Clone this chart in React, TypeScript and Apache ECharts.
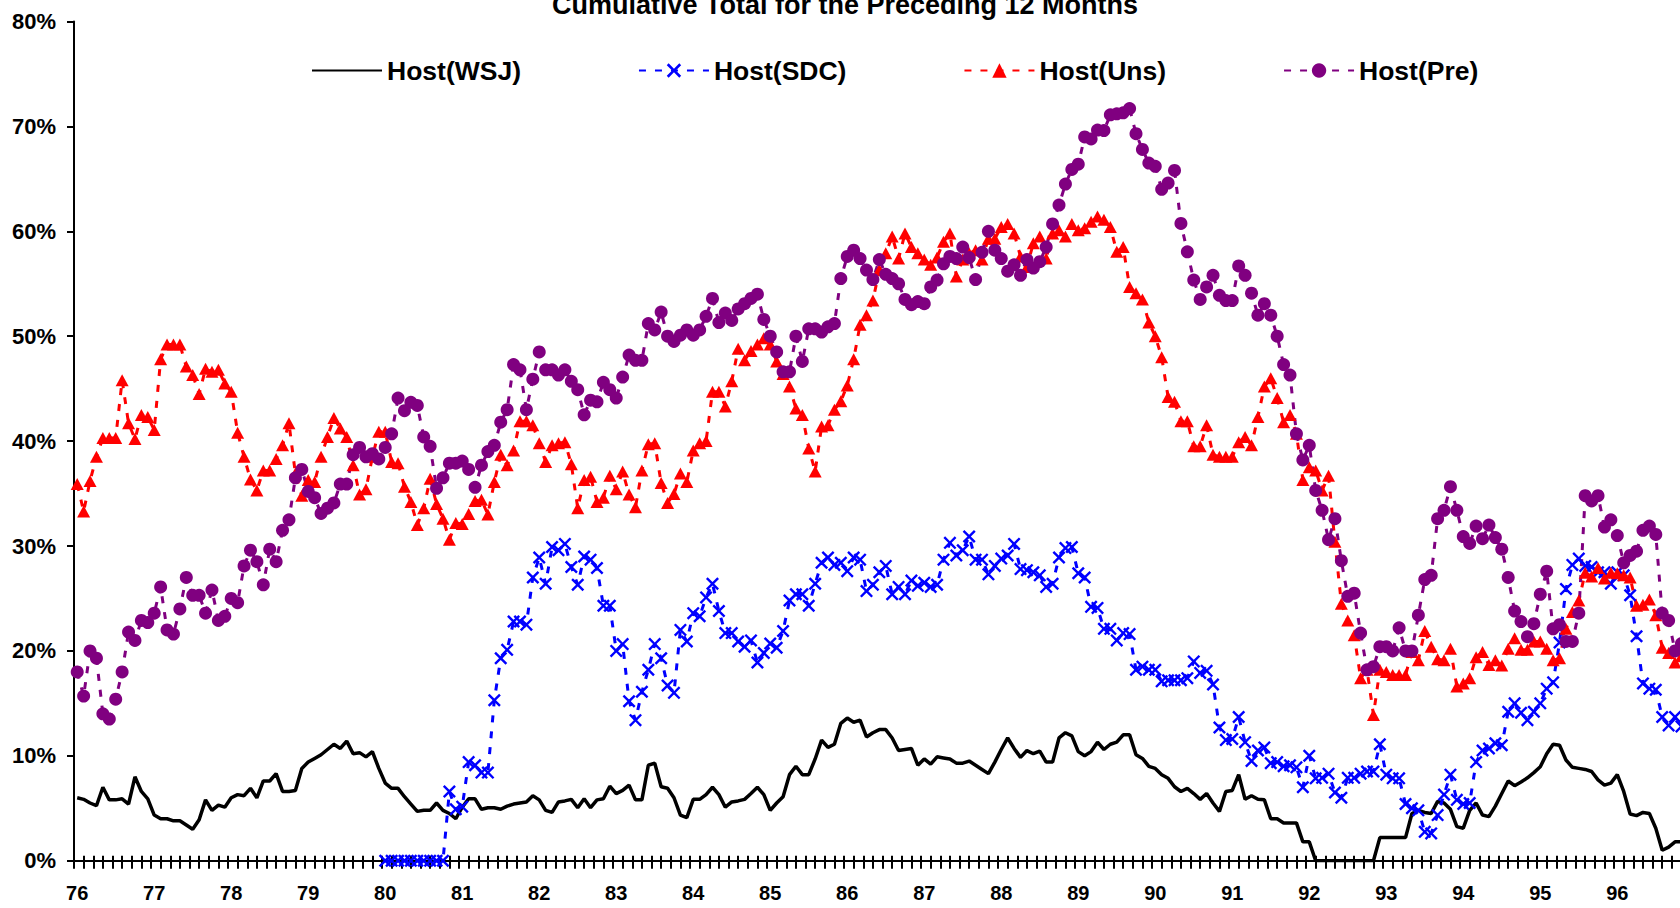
import React, { useEffect, useRef } from "react";
import * as echarts from "echarts";

const FONT = "'Liberation Sans', Arial, sans-serif";
const TITLE = "Cumulative Total for the Preceding 12 Months";
const YEARS = [76, 77, 78, 79, 80, 81, 82, 83, 84, 85, 86, 87, 88, 89, 90, 91, 92, 93, 94, 95, 96];
const MONTHS = [1, 2, 3, 4, 5, 6, 7, 8, 9, 10, 11, 12];
const Y_TICKS = [0, 10, 20, 30, 40, 50, 60, 70, 80];
const SERIES_NAMES = ["Host(WSJ)", "Host(SDC)", "Host(Uns)", "Host(Pre)"];

// monthly values (%) starting Jan 1976
const hostWSJ = [
  6.0, 5.85, 5.5, 5.24, 7.0, 5.8, 5.8, 5.9, 5.4, 8.0,
  6.6, 5.9, 4.35, 4.0, 4.0, 3.8, 3.8, 3.4, 3.0, 3.9,
  5.8, 4.8, 5.3, 5.1, 6.0, 6.3, 6.2, 6.9, 6.0, 7.6,
  7.6, 8.3, 6.6, 6.6, 6.7, 8.8, 9.4, 9.75, 10.1, 10.6,
  11.1, 10.7, 11.4, 10.2, 10.3, 9.9, 10.4, 8.8, 7.4, 6.9,
  6.9, 6.1, 5.4, 4.7, 4.8, 4.8, 5.5, 4.8, 4.5, 4.0,
  5.1, 5.9, 5.9, 4.9, 5.05, 5.05, 4.9, 5.2, 5.4, 5.5,
  5.6, 6.2, 5.8, 4.8, 4.6, 5.6, 5.7, 5.85, 5.05, 5.9,
  5.05, 5.8, 5.9, 7.1, 6.4, 6.7, 7.2, 5.8, 5.8, 9.1,
  9.3, 7.05, 6.9, 6.0, 4.35, 4.1, 5.85, 5.85, 6.3, 7.0,
  6.3, 5.1, 5.6, 5.7, 5.85, 6.4, 7.0, 6.3, 4.8, 5.5,
  6.1, 8.2, 9.0, 8.2, 8.2, 9.7, 11.5, 10.8, 11.1, 13.1,
  13.6, 13.2, 13.4, 11.8, 12.2, 12.5, 12.5, 11.7, 10.5, 10.6,
  10.7, 9.1, 9.7, 9.2, 9.9, 9.8, 9.7, 9.3, 9.3, 9.5,
  9.1, 8.7, 8.3, 9.4, 10.6, 11.7, 10.7, 9.85, 10.5, 10.2,
  10.45, 9.4, 9.4, 11.7, 12.2, 11.9, 10.4, 10.0, 10.4, 11.3,
  10.6, 11.1, 11.3, 12.0, 12.0, 10.1, 9.75, 9.0, 8.8, 8.2,
  7.85, 7.05, 6.6, 6.9, 6.4, 5.85, 6.4, 5.5, 4.7, 6.6,
  6.7, 8.2, 5.85, 6.2, 5.85, 5.8, 4.0, 4.0, 3.6, 3.6,
  3.6, 1.8, 1.8, 0, 0, 0, 0, 0, 0, 0,
  0, 0, 0, 2.2, 2.2, 2.2, 2.2, 2.2, 4.5, 4.8,
  4.6, 4.5, 5.65, 5.5, 4.9, 3.25, 3.1, 4.8, 5.5, 4.35,
  4.2, 5.2, 6.4, 7.6, 7.15, 7.5, 7.9, 8.4, 8.95, 10.2,
  11.1, 11.0, 9.6, 8.9, 8.8, 8.7, 8.5, 7.7, 7.2, 7.4,
  8.2, 6.6, 4.45, 4.3, 4.6, 4.5, 3.1, 1.0, 1.3, 1.8,
  1.8,
];

// SDC series begins Jan 1980
const SDC_START_YEAR = 80;
const hostSDC = [
  0, 0, 0, 0, 0, 0, 0, 0, 0, 0,
  6.6, 4.9, 5.15, 9.4, 9.1, 8.4, 8.4, 15.3, 19.3, 20.1,
  22.8, 22.8, 22.5, 27.0, 28.9, 26.4, 29.9, 29.6, 30.2, 28.0,
  26.3, 29.0, 28.7, 27.9, 24.3, 24.3, 20.0, 20.65, 15.2, 13.4,
  16.1, 18.2, 20.65, 19.3, 16.7, 16.0, 22.0, 20.9, 23.6, 23.3,
  25.1, 26.4, 23.8, 21.7, 21.7, 20.9, 20.4, 21.0, 18.9, 19.8,
  20.7, 20.3, 21.9, 24.8, 25.4, 25.4, 24.3, 26.4, 28.4, 28.9,
  28.2, 28.4, 27.6, 28.9, 28.7, 25.7, 26.3, 27.5, 28.1, 25.4,
  26.1, 25.4, 26.7, 26.2, 26.5, 26.1, 26.3, 28.7, 30.3, 29.1,
  29.6, 30.9, 28.7, 28.7, 27.3, 28.1, 28.8, 29.1, 30.2, 27.8,
  27.7, 27.5, 27.2, 26.1, 26.4, 28.9, 29.8, 29.9, 27.4, 27.0,
  24.2, 24.1, 22.1, 22.1, 21.0, 21.7, 21.6, 18.2, 18.5, 18.2,
  18.2, 17.1, 17.2, 17.2, 17.2, 17.4, 19.0, 17.9, 18.1, 16.8,
  12.7, 11.5, 11.6, 13.7, 11.3, 9.5, 10.5, 10.8, 9.3, 9.4,
  9.0, 9.1, 8.9, 7.0, 10.0, 7.85, 7.9, 8.3, 6.5, 6.0,
  7.9, 7.9, 8.3, 8.5, 8.5, 11.1, 8.2, 7.85, 7.85, 5.4,
  5.0, 4.8, 2.75, 2.6, 4.35, 6.3, 8.2, 5.8, 5.4, 5.5,
  9.4, 10.5, 10.7, 11.2, 11.0, 14.2, 15.0, 14.1, 13.4, 14.2,
  15.0, 16.4, 17.0, 20.8, 25.9, 28.2, 28.8, 28.1, 28.0, 27.5,
  27.5, 26.4, 27.5, 27.2, 25.3, 21.4, 16.9, 16.4, 16.3, 13.7,
  12.9, 13.7, 12.8,
];

const hostUns = [
  35.9, 33.3, 36.2, 38.5, 40.3, 40.3, 40.3, 45.8, 41.7, 40.2,
  42.5, 42.3, 41.05, 47.8, 49.2, 49.2, 49.2, 47.1, 46.3, 44.5,
  46.9, 46.6, 46.8, 45.5, 44.7, 40.8, 38.5, 36.35, 35.3, 37.2,
  37.2, 38.3, 39.6, 41.7, 36.9, 34.8, 36.3, 36.1, 38.5, 40.4,
  42.2, 41.2, 40.4, 37.7, 34.9, 35.4, 38.5, 40.9, 40.9, 38.0,
  37.9, 35.65, 34.2, 32.0, 33.6, 36.4, 34.0, 32.6, 30.6, 32.2,
  32.1, 33.05, 34.3, 34.4, 33.0, 36.1, 38.7, 37.7, 39.1, 41.9,
  41.9, 41.5, 39.8, 38.0, 39.6, 39.8, 39.9, 37.8, 33.6, 36.3,
  36.6, 34.2, 34.6, 36.7, 35.4, 37.1, 34.9, 33.7, 37.2, 39.7,
  39.8, 36.0, 34.1, 34.95, 36.9, 36.1, 39.1, 39.8, 40.0, 44.7,
  44.7, 43.3, 45.7, 48.8, 47.7, 48.6, 49.2, 49.8, 49.2, 47.6,
  46.4, 45.2, 43.1, 42.5, 39.3, 37.1, 41.4, 41.5, 43.0, 43.8,
  45.3, 47.8, 51.1, 52.0, 53.4, 56.3, 57.9, 59.5, 57.4, 59.8,
  58.5, 57.9, 57.3, 56.8, 57.5, 59.0, 59.8, 55.7, 57.3, 57.9,
  58.2, 57.3, 59.3, 59.3, 60.4, 60.7, 59.8, 57.6, 56.6, 58.85,
  59.5, 57.4, 59.8, 60.1, 59.5, 60.7, 60.1, 60.3, 60.9, 61.4,
  61.1, 60.4, 58.05, 58.5, 54.7, 54.1, 53.5, 51.3, 50.0, 48.0,
  44.2, 43.75, 41.9, 41.9, 39.5, 39.5, 41.5, 38.7, 38.5, 38.5,
  38.5, 39.9, 40.4, 39.6, 42.3, 45.2, 46.0, 44.1, 41.8, 42.5,
  40.7, 36.3, 37.5, 37.2, 35.3, 36.7, 30.4, 24.5, 22.9, 21.5,
  17.4, 18.2, 13.9, 18.2, 18.0, 17.7, 17.7, 17.7, 19.9, 19.1,
  21.9, 20.4, 19.2, 19.1, 20.2, 16.6, 16.9, 17.4, 19.4, 19.9,
  18.65, 19.1, 18.6, 20.2, 21.2, 20.1, 20.1, 20.9, 20.9, 20.2,
  19.1, 19.3, 22.1, 23.7, 24.8, 27.45, 27.1, 27.9, 26.9, 27.45,
  27.4, 27.2, 27.0, 24.3, 24.4, 24.9, 23.4, 20.3, 19.8, 18.9,
  19.5,
];

const hostPre = [
  18.0, 15.7, 20.0, 19.3, 14.0, 13.5, 15.4, 18.0, 21.8, 21.0,
  22.9, 22.7, 23.6, 26.1, 22.0, 21.6, 24.0, 27.0, 25.3, 25.3,
  23.6, 25.8, 22.9, 23.3, 25.0, 24.6, 28.1, 29.6, 28.5, 26.3,
  29.7, 28.5, 31.5, 32.5, 36.5, 37.3, 35.2, 34.6, 33.1, 33.6,
  34.1, 35.9, 35.9, 38.7, 39.4, 38.5, 38.8, 38.3, 39.4, 40.7,
  44.1, 42.9, 43.7, 43.4, 40.4, 39.5, 35.5, 36.5, 37.9, 37.9,
  38.1, 37.3, 35.6, 37.7, 39.0, 39.6, 41.8, 43.0, 47.3, 46.8,
  43.0, 45.9, 48.5, 46.8, 46.8, 46.3, 46.8, 45.7, 44.9, 42.5,
  43.9, 43.75, 45.6, 44.9, 44.1, 46.1, 48.2, 47.7, 47.7, 51.2,
  50.6, 52.3, 50.0, 49.5, 50.1, 50.6, 50.1, 50.6, 51.9, 53.6,
  51.3, 52.2, 51.5, 52.6, 53.1, 53.6, 54.0, 51.6, 50.0, 48.5,
  46.6, 46.6, 50.0, 47.6, 50.7, 50.7, 50.4, 50.9, 51.2, 55.5,
  57.6, 58.2, 57.4, 56.3, 55.4, 57.3, 55.9, 55.5, 55.0, 53.5,
  53.0, 53.3, 53.1, 54.7, 55.35, 56.9, 57.6, 57.4, 58.5, 57.5,
  55.4, 58.0, 60.0, 58.2, 57.4, 56.2, 56.8, 55.8, 57.3, 56.5,
  57.1, 58.5, 60.7, 62.5, 64.5, 65.9, 66.4, 69.0, 68.8, 69.65,
  69.6, 71.1, 71.2, 71.3, 71.7, 69.3, 67.8, 66.5, 66.2, 64.0,
  64.6, 65.8, 60.75, 58.05, 55.35, 53.5, 54.7, 55.8, 53.9, 53.4,
  53.4, 56.7, 55.8, 54.1, 52.0, 53.1, 52.0, 50.0, 47.3, 46.3,
  40.7, 38.2, 39.6, 35.3, 33.4, 30.6, 32.6, 28.6, 25.2, 25.5,
  21.7, 18.2, 18.5, 20.4, 20.4, 20.0, 22.2, 20.0, 20.0, 23.4,
  26.8, 27.2, 32.6, 33.4, 35.65, 33.4, 30.9, 30.25, 31.9, 30.7,
  32.0, 30.8, 29.7, 27.0, 23.8, 22.8, 21.35, 22.6, 25.4, 27.6,
  22.1, 22.5, 20.9, 20.9, 23.6, 34.8, 34.3, 34.8, 31.8, 32.5,
  31.0, 28.4, 29.1, 29.5, 31.5, 31.9, 31.1, 23.6, 22.9, 20.0,
  20.7,
];

const CROSS =
  "path://M0,1.3L1.3,0L5,3.7L8.7,0L10,1.3L6.3,5L10,8.7L8.7,10L5,6.3L1.3,10L0,8.7L3.7,5Z";

export default function App() {
  const ref = useRef<HTMLDivElement>(null);

  useEffect(() => {
    if (!ref.current) return;
    const chart = echarts.init(ref.current, null, { renderer: "svg" });

    const categories: string[] = [];
    YEARS.forEach((y) => MONTHS.forEach((m) => categories.push(`${y}-${m}`)));
    const nCat = categories.length;
    const sdcOffset = YEARS.indexOf(SDC_START_YEAR) * MONTHS.length;
    const sdcData = hostSDC.map((v, k) => [sdcOffset + k, v]);

    const tickAxis = (inside: boolean, len: number) => ({
      type: "value",
      min: 0,
      max: nCat,
      interval: 1.5,
      position: "bottom",
      axisLine: { show: false },
      axisLabel: { show: false },
      splitLine: { show: false },
      axisTick: { show: true, inside, length: len, lineStyle: { color: "#000", width: 2 } },
    });

    chart.setOption({
      animation: false,
      backgroundColor: "#ffffff",
      title: {
        text: TITLE,
        left: 552,
        top: -9,
        padding: 0,
        textStyle: { fontSize: 27, fontWeight: "bold", color: "#000", fontFamily: FONT },
      },
      legend: {
        data: [
          { name: SERIES_NAMES[0], itemStyle: { opacity: 0 } },
          SERIES_NAMES[1],
          SERIES_NAMES[2],
          SERIES_NAMES[3],
        ],
        top: 57,
        left: 311,
        padding: 0,
        itemWidth: 70,
        itemHeight: 18,
        itemGap: 117,
        textStyle: { fontSize: 26.5, fontWeight: "bold", color: "#000", fontFamily: FONT },
      },
      grid: {
        left: 74,
        top: 21.5,
        width: nCat * 6.417,
        height: 839.2,
        containLabel: false,
        outerBoundsMode: "none",
      },
      xAxis: [
        {
          type: "category",
          data: categories,
          boundaryGap: true,
          position: "bottom",
          axisLine: { show: true, lineStyle: { color: "#000", width: 2 } },
          axisTick: { show: false },
          splitLine: { show: false },
          axisLabel: {
            interval: (i: number) => i % MONTHS.length === 0,
            formatter: (v: string) => v.split("-")[0],
            color: "#000",
            fontSize: 20,
            fontWeight: "bold",
            fontFamily: FONT,
            margin: 22,
          },
        },
        tickAxis(false, 8),
        tickAxis(true, 5),
      ],
      yAxis: {
        type: "value",
        min: Y_TICKS[0],
        max: Y_TICKS[Y_TICKS.length - 1],
        interval: 10,
        axisLine: { show: true, lineStyle: { color: "#000", width: 2 } },
        axisTick: { show: true, length: 7, lineStyle: { color: "#000", width: 2 } },
        splitLine: { show: false },
        axisLabel: {
          formatter: "{value}%",
          color: "#000",
          fontSize: 22,
          fontWeight: "bold",
          fontFamily: FONT,
          margin: 18,
        },
      },
      series: [
        {
          name: SERIES_NAMES[0],
          type: "line",
          xAxisIndex: 0,
          data: hostWSJ,
          symbol: "none",
          lineStyle: { color: "#000000", width: 3.5 },
          itemStyle: { color: "#000000" },
        },
        {
          name: SERIES_NAMES[1],
          type: "line",
          xAxisIndex: 0,
          data: sdcData,
          symbol: CROSS,
          symbolSize: 13,
          showAllSymbol: true,
          lineStyle: { color: "#0000FF", width: 3, type: [7, 9] },
          itemStyle: { color: "#0000FF" },
        },
        {
          name: SERIES_NAMES[2],
          type: "line",
          xAxisIndex: 0,
          data: hostUns,
          symbol: "triangle",
          symbolSize: [13, 12],
          showAllSymbol: true,
          lineStyle: { color: "#FF0000", width: 3, type: [7, 9] },
          itemStyle: { color: "#FF0000" },
        },
        {
          name: SERIES_NAMES[3],
          type: "line",
          xAxisIndex: 0,
          data: hostPre,
          symbol: "circle",
          symbolSize: 13,
          showAllSymbol: true,
          lineStyle: { color: "#800080", width: 3, type: [7, 9] },
          itemStyle: { color: "#800080" },
        },
      ],
    });

    return () => chart.dispose();
  }, []);

  return (
    <div
      ref={ref}
      style={{ position: "fixed", left: 0, top: 0, width: 1680, height: 908, background: "#fff" }}
    />
  );
}
